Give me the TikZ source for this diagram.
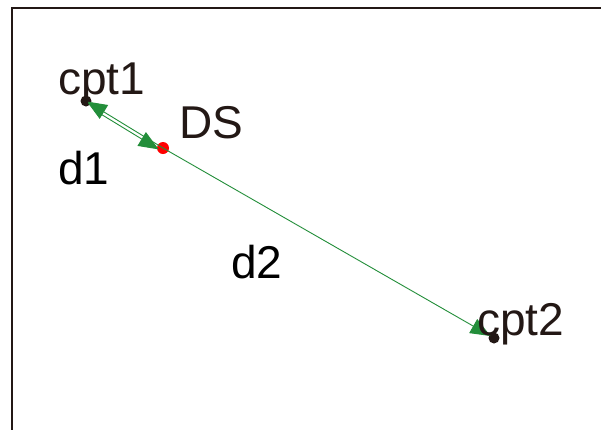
\documentclass[tikz,border=0pt]{standalone}
\usepackage{fontspec}
\setmainfont{Liberation Sans}
\usetikzlibrary{arrows.meta,calc,positioning}
\definecolor{inkbrown}{HTML}{231815}
\definecolor{vecgreen}{HTML}{238E3A}
\tikzset{
  frame line/.style = {line width=2.6pt, inkbrown},
  pt dot/.style     = {circle, fill=inkbrown, inner sep=0pt, minimum size=11pt},
  ds dot/.style     = {circle, fill=red, inner sep=0pt, minimum size=12pt},
  vec/.style        = {-{Triangle[length=20pt,width=16pt]}, line width=0.9pt, vecgreen},
  lbl/.style        = {anchor=base west, inner sep=0pt, font=\fontsize{46}{50}\selectfont},
}

\begin{document}
\begin{tikzpicture}[x=1pt,y=-1pt]
  \useasboundingbox (0,0) rectangle (601,429);
  \fill[white] (0,0) rectangle (601,429);
  \draw[frame line] (12,430) -- (12,8) -- (602,8);

  \node[pt dot] (cpt1) at (86,101) {};
  \node[ds dot] (DS)   at (163,148) {};
  \node[pt dot] (cpt2) at (494,338) {};

  \draw[vec, shorten >=1pt] (DS.center) -- (cpt1.center);
  \draw[vec, shorten >=4pt] (DS.center) -- (cpt2.center);
  \draw[vec, shorten <=10pt, shorten >=5pt] ([yshift=-4pt]cpt1.center) -- ([yshift=-4pt]DS.center);

  \node[lbl, text=inkbrown] (lcpt1) at (58,94)  {cpt1};
  \node[lbl, text=inkbrown] (lDS)   at (179,138) {DS};
  \node[lbl, text=inkbrown] (lcpt2) at (477,335) {cpt2};
  \node[lbl] (ld1) at (58,184) {d1};
  \node[lbl] (ld2) at (231,278) {d2};
\end{tikzpicture}
\end{document}
